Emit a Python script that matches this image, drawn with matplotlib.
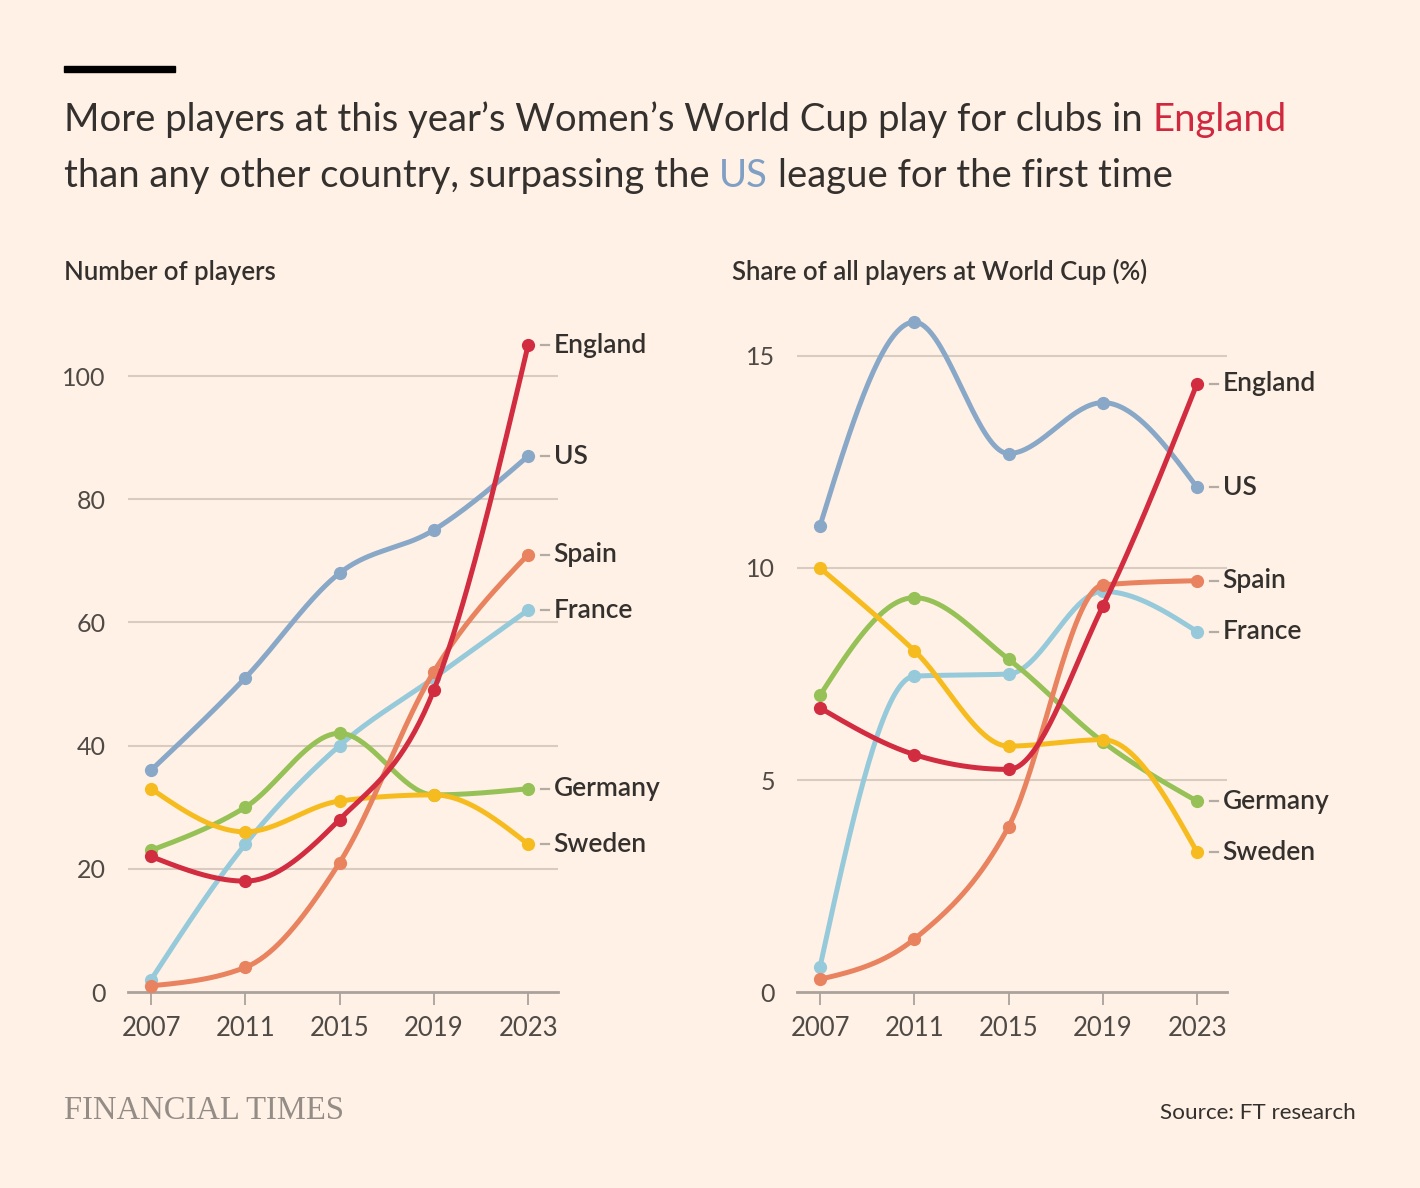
import numpy as np
import matplotlib
matplotlib.use("Agg")
import matplotlib.pyplot as plt

plt.rcParams['font.family'] = ['Lato', 'DejaVu Sans']

years = [2007, 2011, 2015, 2019, 2023]
countries = ['US', 'France', 'Germany', 'Sweden', 'Spain', 'England']

# number of players
players = {
    'US':      [36, 51, 68, 75, 87],
    'England': [22, 18, 28, 49, 105],
    'Spain':   [1, 4, 21, 52, 71],
    'France':  [2, 24, 40, 51, 62],
    'Germany': [23, 30, 42, 32, 33],
    'Sweden':  [33, 26, 31, 32, 24],
}

# share of all players at the World Cup (%)
share = {
    'US':      [11.0, 15.8, 12.7, 13.9, 11.9],
    'England': [6.7, 5.6, 5.25, 9.1, 14.35],
    'Spain':   [0.3, 1.25, 3.9, 9.6, 9.7],
    'France':  [0.6, 7.45, 7.5, 9.45, 8.5],
    'Germany': [7.0, 9.3, 7.85, 5.9, 4.5],
    'Sweden':  [10.0, 8.05, 5.8, 5.95, 3.3],
}

colors = {
    'US': '#89a8c8',
    'England': '#d12c40',
    'Spain': '#e8825f',
    'France': '#96cadb',
    'Germany': '#96c156',
    'Sweden': '#f6bc1f',
}

bg = '#fff1e5'
ink = '#33302e'
W, H = 1420, 1188


def monotone_x(x, y, n=40):
    # same idea as d3.curveMonotoneX, only used to draw the line smoothly
    x = np.asarray(x, float)
    y = np.asarray(y, float)
    h = np.diff(x)
    s = np.diff(y) / h
    m = np.zeros(len(x))
    for i in range(1, len(x) - 1):
        p = (s[i - 1] * h[i] + s[i] * h[i - 1]) / (h[i - 1] + h[i])
        m[i] = (np.sign(s[i - 1]) + np.sign(s[i])) * min(abs(s[i - 1]), abs(s[i]), 0.5 * abs(p))
    m[0] = (3 * s[0] - m[1]) / 2
    m[-1] = (3 * s[-1] - m[-2]) / 2
    xs, ys = [], []
    for i in range(len(x) - 1):
        t = np.linspace(0, 1, n)
        h00 = 2 * t**3 - 3 * t**2 + 1
        h10 = t**3 - 2 * t**2 + t
        h01 = -2 * t**3 + 3 * t**2
        h11 = t**3 - t**2
        xs.append(x[i] + t * h[i])
        ys.append(h00 * y[i] + h10 * h[i] * m[i] + h01 * y[i + 1] + h11 * h[i] * m[i + 1])
    return np.concatenate(xs), np.concatenate(ys)


fig = plt.figure(figsize=(W / 100, H / 100), dpi=100, facecolor=bg)


def px_axes(x0, x1, y0, y1):
    return fig.add_axes([x0 / W, 1 - y1 / H, (x1 - x0) / W, (y1 - y0) / H])


def draw_panel(ax, data, ymax, grid):
    ax.set_facecolor('none')
    for name in countries:
        lx, ly = monotone_x(years, data[name])
        ax.plot(lx, ly, color=colors[name], lw=3.6, solid_capstyle='round', zorder=3, clip_on=False)
        ax.plot(years, data[name], 'o', color=colors[name], ms=8.5, zorder=3, clip_on=False)
        last = data[name][-1]
        ax.plot([2023 + 0.55, 2023 + 0.88], [last, last], color='#b3aba4', lw=1.6, clip_on=False)
        ax.text(2023 + 1.08, last, name, fontsize=19, color=ink, va='center', ha='left',
                fontweight='semibold')
    ax.set_xlim(2006.02, 2024.27)
    ax.set_ylim(0, ymax)
    ax.set_xticks(years)
    ax.set_yticks(grid)
    for g in grid[1:]:
        ax.axhline(g, color='#d8cbbf', lw=1.5, zorder=1)
    for sp in ['top', 'right', 'left']:
        ax.spines[sp].set_visible(False)
    ax.spines['bottom'].set_color('#aaa29b')
    ax.spines['bottom'].set_linewidth(2)
    ax.tick_params(axis='y', length=0, pad=16, labelsize=18, labelcolor='#4f4a46')
    ax.tick_params(axis='x', length=9, width=1.3, color='#aaa29b', pad=8, labelsize=18.5,
                   labelcolor='#4f4a46')


ax1 = px_axes(128, 558, 300, 992)
draw_panel(ax1, players, (992 - 300) / 6.16, [0, 20, 40, 60, 80, 100])
ax2 = px_axes(797, 1227, 300, 992)
draw_panel(ax2, share, (992 - 300) / 42.4, [0, 5, 10, 15])

# panel titles
fig.text(64 / W, 1 - 272 / H, 'Number of players', fontsize=18.5, fontweight='semibold', color=ink, va='center')
fig.text(732 / W, 1 - 272 / H, 'Share of all players at World Cup (%)', fontsize=18.5, fontweight='semibold',
         color=ink, va='center')

# black bar at top
fig.add_artist(plt.Rectangle((64 / W, 1 - 72 / H), 111 / W, 6 / H, color='#000000', transform=fig.transFigure))

# headline with coloured words
renderer = fig.canvas.get_renderer()
title_size = 27.5


def width_of(s):
    t = fig.text(0, 0, s, fontsize=title_size)
    w = t.get_window_extent(renderer).width
    t.remove()
    return w


space = width_of('a a') - width_of('aa')
lines = [
    (131, [('More players at this year’s Women’s World Cup play for clubs in', ink), ('England', '#d0283f')]),
    (187, [('than any other country, surpassing the', ink), ('US', '#7f9fc4'),
           ('league for the first time', ink)]),
]
for ybase, parts in lines:
    x = 64
    for txt, col in parts:
        t = fig.text(x / W, 1 - ybase / H, txt, fontsize=title_size, color=col, va='baseline', ha='left')
        x += t.get_window_extent(renderer).width + space

# footer
fig.text(64 / W, 1 - 1111 / H, 'FINANCIAL TIMES', family='Liberation Serif', fontsize=23.5, color='#948c86',
         va='center', ha='left')
fig.text(1356 / W, 1 - 1113 / H, 'Source: FT research', fontsize=16.2, color=ink, va='center', ha='right')

fig.savefig('out.png', dpi=100, facecolor=bg)
